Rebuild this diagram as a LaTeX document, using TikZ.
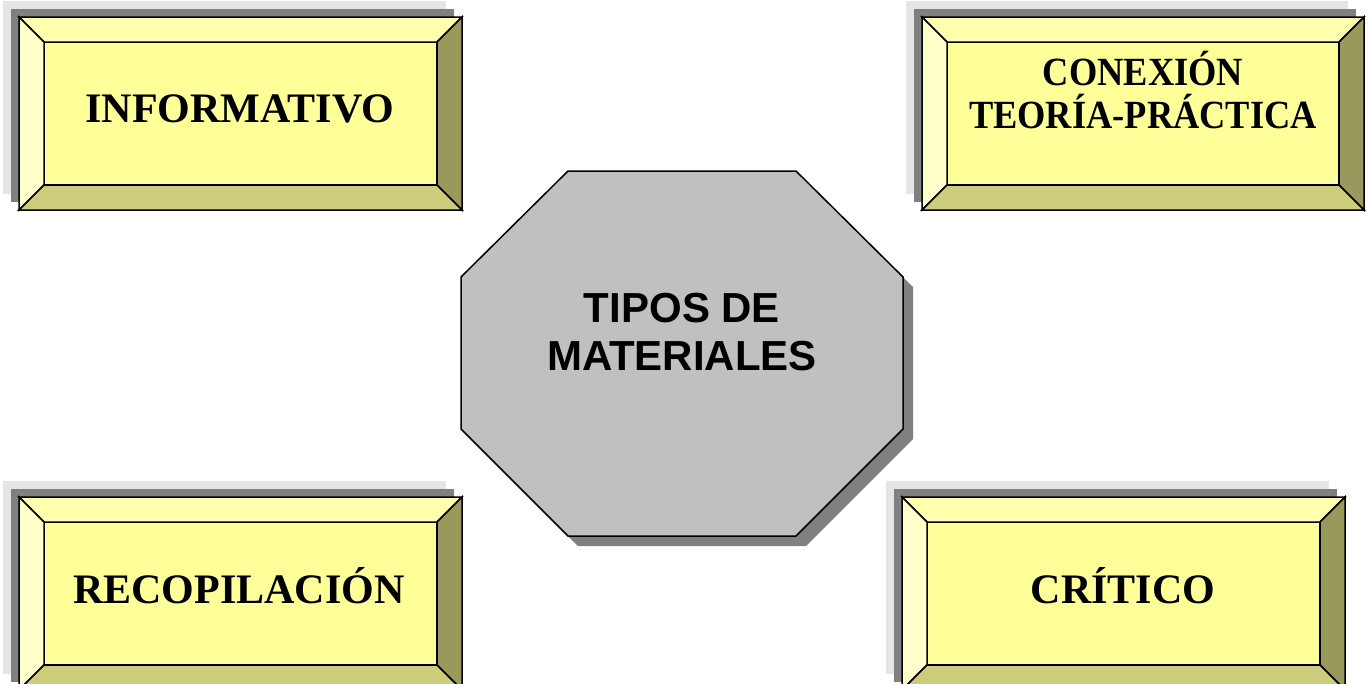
\documentclass[tikz,border=0pt]{standalone}
\usepackage{fontspec}
\setmainfont{Liberation Serif}
\newfontfamily\octfont{Liberation Sans}
\definecolor{shlight}{HTML}{E5E5E5}
\definecolor{shdark}{HTML}{808080}
\definecolor{facecol}{HTML}{FFFF99}
\definecolor{topcol}{HTML}{FFFFAD}
\definecolor{leftcol}{HTML}{FFFFCC}
\definecolor{botcol}{HTML}{CCCC7A}
\definecolor{rightcol}{HTML}{99995B}
\definecolor{octcol}{HTML}{C0C0C0}
\newcommand\bevelbox[4]{%
  \fill[shlight] (#1-16,#2-16) rectangle (#3-16,#4-16);
  \fill[shdark] (#1-8,#2-8) rectangle (#3-8,#4-8);
  \filldraw[bevline,fill=facecol] (#1+25,#2+25) rectangle (#3-25,#4-25);
  \filldraw[bevline,fill=topcol] (#1,#2) -- (#3,#2) -- (#3-25,#2+25) -- (#1+25,#2+25) -- cycle;
  \filldraw[bevline,fill=leftcol] (#1,#2) -- (#1+25,#2+25) -- (#1+25,#4-25) -- (#1,#4) -- cycle;
  \filldraw[bevline,fill=rightcol] (#3,#2) -- (#3,#4) -- (#3-25,#4-25) -- (#3-25,#2+25) -- cycle;
  \filldraw[bevline,fill=botcol] (#1,#4) -- (#3,#4) -- (#3-25,#4-25) -- (#1+25,#4-25) -- cycle;
}
\tikzset{
  bevline/.style={draw=black,line width=1.5pt,line join=miter},
  boxtext/.style={anchor=base,inner sep=0pt,font=\bfseries\fontsize{42}{48}\selectfont},
  octtext/.style={anchor=base,inner sep=0pt,font=\octfont\bfseries\fontsize{42}{48}\selectfont},
}
\begin{document}
\begin{tikzpicture}[x=1pt,y=-1pt]
\useasboundingbox (0,0) rectangle (1367,683);
\begin{scope}
\clip (0,0) rectangle (1367,683);
\bevelbox{19}{17}{462}{210}
\bevelbox{922}{17}{1364}{210}
\bevelbox{19}{497}{462}{690}
\bevelbox{902}{497}{1345}{690}
\end{scope}
% octagon
\fill[shdark] (578,181) -- (806,181) -- (913,287) -- (913,439) -- (806,546) -- (578,546) -- (471,439) -- (471,287) -- cycle;
\filldraw[bevline,fill=octcol] (568,171) -- (796,171) -- (903,277) -- (903,429) -- (796,536) -- (568,536) -- (461,429) -- (461,277) -- cycle;
\node[boxtext] (info) at (240,122) {INFORMATIVO};
\node[boxtext] (con1) at (1143,85) {\scalebox{0.91}[1]{\fontsize{40}{46}\selectfont CONEXIÓN}};
\node[boxtext] (con2) at (1143,128) {\scalebox{0.91}[1]{\fontsize{40}{46}\selectfont TEORÍA-PRÁCTICA}};
\node[boxtext] (reco) at (239,603) {RECOPILACIÓN};
\node[boxtext] (crit) at (1123,603) {CRÍTICO};
\node[octtext] (tip1) at (682,322) {TIPOS DE};
\node[octtext] (tip2) at (682,370) {MATERIALES};
\end{tikzpicture}
\end{document}
